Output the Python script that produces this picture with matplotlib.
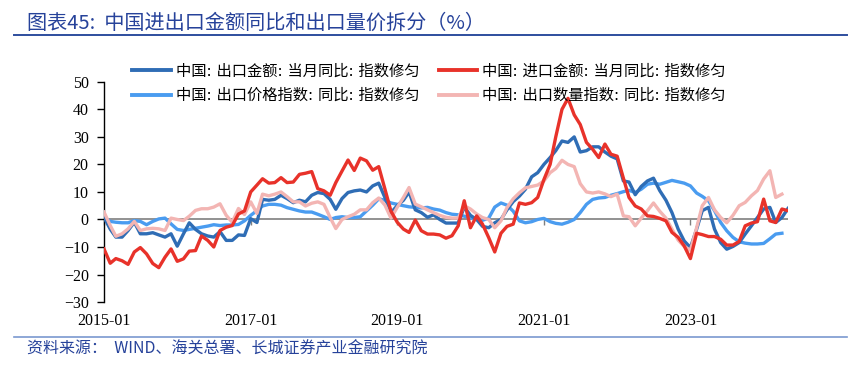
import numpy as np
import pandas as pd
import matplotlib
matplotlib.use("Agg")
import matplotlib.pyplot as plt
import matplotlib.dates as mdates
from matplotlib.lines import Line2D

plt.rcParams['font.family'] = ['Noto Sans CJK SC', 'DejaVu Sans']

dates = pd.date_range('2015-01-01', periods=113, freq='MS')

# 中国: 出口金额: 当月同比: 指数修匀
exp_val = [0.8, -3.5, -6.4, -6.4, -4, -1, -5.2, -5.2, -4.8, -5.6, -6.4, -5.2,
           -9.7, -5.2, -1.2, -3.6, -5.2, -6, -6.4, -4.4, -7.6, -7.6, -5.6, -5.8,
           0.3, -1.1, 7.3, 7, 7.3, 8.8, 7.6, 6.1, 7, 6.4, 8.8, 9.8,
           9.4, 7.3, 3.7, 7.6, 9.8, 10.4, 10.7, 10, 12.2, 13.2, 7.9, 2.5,
           5, 7, 10, 3.5, 2.5, 0.8, 1.7, 0, -1.3, -1.3, -1.3, 4.5,
           1.5, 0, -2.5, -3, -1.2, 0, 3.5, 6.5, 8.5, 11, 15.5, 17,
           20, 22.5, 25, 28.5, 28, 30, 24.5, 25, 26.4, 26.4, 24.5, 23,
           22, 14, 13.6, 9, 12, 14, 15, 10.5, 7, 2.5, -3.5, -7.8,
           -10.2, -3.5, 3.2, 4.4, -3.5, -8.4, -10.8, -9.8, -8.4, -5.3, -2.3, 0.7,
           3.8, 4.4, -1.1, 0.7, 4]

# 中国: 进口金额: 当月同比: 指数修匀
imp_val = [-10.7, -15.9, -14.2, -15, -16.3, -11.8, -10.2, -12.5, -16, -17.5, -13.7, -10.7,
           -15.2, -14.3, -11.5, -11.3, -6, -7.6, -10, -4, -2.8, -2.2, 2, 3.1,
           10, 12.5, 14.8, 13.2, 13.4, 15.2, 13.4, 13.6, 16.4, 16.8, 17.4, 11.2,
           10.4, 8.8, 13.4, 17.6, 21.6, 17.8, 22.3, 21.3, 17.9, 19.2, 11, 3,
           -1, -3.5, -4.7, -0.2, -4.1, -5.3, -5.3, -5.6, -6.8, -5.9, -2.3, 6.8,
           -3, 1.3, -1.7, -6.6, -11.8, -5, -2.5, -1.7, 6, 5.5, 6.1, 8,
           14.5, 20, 30, 40, 44, 38, 34.5, 28, 25.5, 22.5, 27.4, 23.7,
           23, 15, 8, 4.9, 3.8, 1.3, 1.1, 0.4, -0.5, -4.7, -6.5, -9.6,
           -14.2, -5, -5.5, -6.2, -6.2, -7.2, -9.3, -9.3, -8, -2.3, -1.3, -0.8,
           7.4, -0.5, -1.1, 3.8, 3.2]

# 中国: 出口价格指数: 同比: 指数修匀
exp_price = [0.8, -0.7, -1, -1.2, -1.2, -0.4, -0.7, -1.9, -0.7, 0.2, 0.5, -1.6,
             -3.6, -4, -3.6, -3.2, -2.8, -2.4, -1.9, -2.2, -2, -2, -1.8, -0.5,
             1.5, 3.2, 4.9, 5.5, 5.5, 5.2, 4.3, 3.7, 3.1, 2.7, 2.7, 1.9,
             1, 0, 0.7, 1, 0.7, 0.7, 1, 3.1, 5.2, 7.5, 7, 6,
             5.5, 5, 4.6, 4.4, 4.2, 4.4, 3.8, 3.4, 2.5, 1.9, 1.7, 1.2,
             0.5, 0, -0.3, 0.5, 4.5, 6, 5.2, 3, -0.5, -1.2, -0.8, 0,
             0.4, -0.8, -1.4, -1.7, -1, 0, 2.5, 5.5, 7.3, 7.8, 8, 8.8,
             9.4, 10.1, 10.6, 9.8, 11, 12.8, 13.2, 12.8, 13.5, 14.2, 13.7, 13.2,
             12.2, 9.6, 8.4, 6.8, 3.2, -1.1, -4.1, -6.5, -8.1, -8.6, -8.9, -8.9,
             -8.7, -7, -5.3, -5, np.nan]

# 中国: 出口数量指数: 同比: 指数修匀
exp_vol = [2.7, -2.2, -6.1, -5.2, -3.4, -0.7, -4, -3.4, -3.2, -3.4, -4, 0.5,
           0, -0.4, 1.2, 3.3, 3.9, 3.9, 4.5, 5.7, 1.5, -1, 4, 1.8,
           6.4, 2.2, 9.2, 8.6, 9.2, 10, 8.3, 6.4, 6.4, 4.9, 5.9, 6.4,
           5.5, 0.7, -3.3, 0, 1, 1.9, 3.5, 3.5, 6.1, 7.8, 5.2, 0.5,
           4.4, 8, 11.6, 5.6, 4.6, 3.5, 2.5, 1.5, 0.8, 0.5, 0.5, 5,
           3.8, 2, 0.7, 0, -3, -0.5, 4.3, 7.5, 9.7, 11.5, 12, 12.5,
           14, 17, 18.5, 21.5, 20, 19.2, 13, 10, 9.6, 10, 9.3, 8.3,
           9.2, 1.3, 1, -2.3, 0.5, 3.2, 6, 3, 0.5, -3.5, -7.5, -9.8,
           -11.2, -3, 5, 8, 3.5, 0.7, -1.2, 1.5, 5, 6.2, 8.6, 10.5,
           14.7, 17.7, 8, 9.2, np.nan]

labels = ['中国: 出口金额: 当月同比: 指数修匀', '中国: 进口金额: 当月同比: 指数修匀',
          '中国: 出口价格指数: 同比: 指数修匀', '中国: 出口数量指数: 同比: 指数修匀']
colors = ['#2F6DB5', '#E8322A', '#4A9CF0', '#F3B5B3']

fig = plt.figure(figsize=(8.56, 3.72), dpi=100)
ax = fig.add_axes([0.1215, 0.188, 0.799, 0.592])

lw = 2.4
ax.plot(dates, exp_price, color=colors[2], lw=lw, zorder=3)
ax.plot(dates, exp_val, color=colors[0], lw=lw, zorder=4)
ax.plot(dates, exp_vol, color=colors[3], lw=lw, zorder=5)
ax.plot(dates, imp_val, color=colors[1], lw=lw, zorder=6)
ax.axhline(0, color='#7f7f7f', lw=1.2, zorder=2)

ax.set_xlim(dates[0], dates[-1])
ax.set_ylim(-30, 50)
ax.set_yticks(range(-30, 51, 10))
for s in ['top', 'right', 'bottom']:
    ax.spines[s].set_visible(False)
ax.spines['left'].set_linewidth(1.0)
ax.tick_params(axis='y', direction='out', length=5, width=1.0, pad=6)

xt = pd.to_datetime(['2015-01-01', '2017-01-01', '2019-01-01', '2021-01-01', '2023-01-01'])
ax.set_xticks(xt)
ax.xaxis.set_major_formatter(mdates.DateFormatter('%Y-%m'))
ax.tick_params(axis='x', length=0, pad=8)

# tick marks on the zero line
sec = ax.secondary_xaxis(30 / 80)
sec.set_xticks(xt)
sec.set_xticklabels([])
sec.spines['bottom'].set_visible(False)
sec.tick_params(axis='x', direction='out', length=4, width=1.0, color='#7f7f7f')

for lab in ax.get_xticklabels() + ax.get_yticklabels():
    lab.set_family(['Liberation Serif'])
    lab.set_fontsize(11.5)

handles = [Line2D([], [], color=c, lw=2.8) for c in colors]
order = [0, 2, 1, 3]
fig.legend([handles[i] for i in order], [labels[i] for i in order],
           ncol=2, loc='upper left', bbox_to_anchor=(0.1385, 0.866),
           frameon=False, prop={'family': ['DejaVu Sans', 'Noto Sans CJK SC'], 'size': 11},
           handlelength=2.5, handletextpad=0.33, columnspacing=1.3, labelspacing=0.62)

title_c = '#26429A'
fig.text(0.032, 0.937, '图表45:  中国进出口金额同比和出口量价拆分（%）',
         color=title_c, fontsize=14.5, fontstyle='italic', va='center', ha='left')
fig.add_artist(Line2D([0.016, 0.99], [0.905, 0.905], color='#2E4E9E', lw=1.4,
                      transform=fig.transFigure))
fig.add_artist(Line2D([0.016, 0.99], [0.094, 0.094], color='#7A98D0', lw=1.2,
                      transform=fig.transFigure))
fig.text(0.032, 0.062, '资料来源：  WIND、海关总署、长城证券产业金融研究院',
         color=title_c, fontsize=11.5, fontstyle='italic', va='center', ha='left')

fig.savefig('out.png', dpi=100)
